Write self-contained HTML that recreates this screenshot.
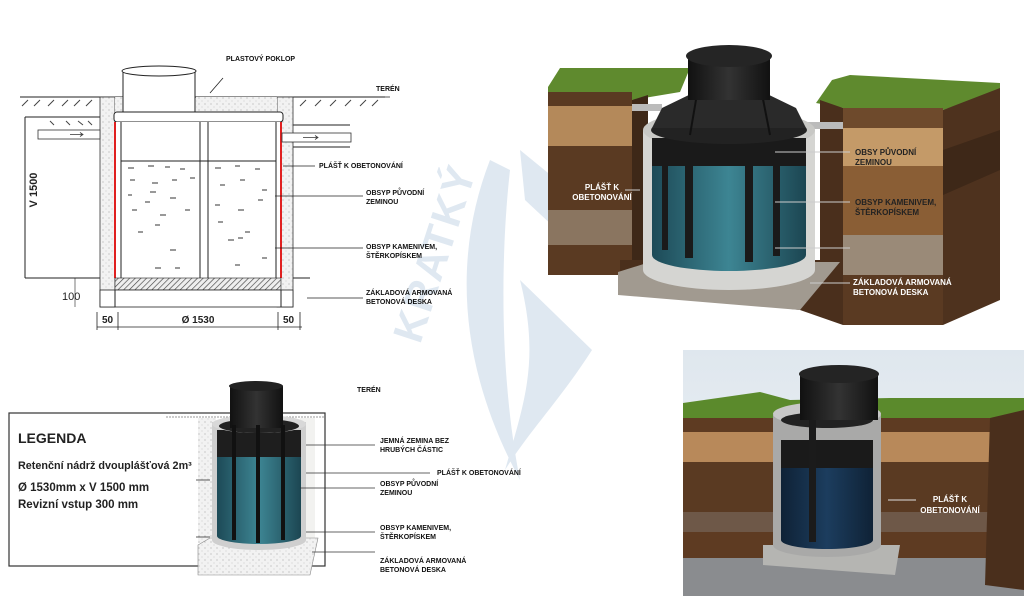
<!DOCTYPE html>
<html><head><meta charset="utf-8"><style>
html,body{margin:0;padding:0;background:#fff;}
svg{display:block;}
text{font-family:"Liberation Sans",sans-serif;}
.l{font-size:7px;font-weight:bold;fill:#111;}
.w{font-size:8px;font-weight:bold;fill:#fff;}
.d{font-size:8px;font-weight:bold;fill:#222;}
</style></head><body>
<svg width="1024" height="596" viewBox="0 0 1024 596" xmlns="http://www.w3.org/2000/svg">
<defs>
<linearGradient id="sky" x1="0" y1="0" x2="0" y2="1"><stop offset="0" stop-color="#dfe7ee"/><stop offset="1" stop-color="#f1f4f6"/></linearGradient>
<linearGradient id="blue" x1="0" y1="0" x2="1" y2="0"><stop offset="0" stop-color="#1d4a57"/><stop offset=".5" stop-color="#3d8593"/><stop offset="1" stop-color="#1c4652"/></linearGradient>
<linearGradient id="navy" x1="0" y1="0" x2="1" y2="0"><stop offset="0" stop-color="#0f2236"/><stop offset=".5" stop-color="#1c3d5e"/><stop offset="1" stop-color="#0f2236"/></linearGradient>
<linearGradient id="blk" x1="0" y1="0" x2="1" y2="0"><stop offset="0" stop-color="#111"/><stop offset=".5" stop-color="#333"/><stop offset="1" stop-color="#111"/></linearGradient>
<pattern id="hat" width="4" height="4" patternUnits="userSpaceOnUse" patternTransform="rotate(45)"><rect width="4" height="4" fill="#eee"/><line x1="0" y1="0" x2="0" y2="4" stroke="#444" stroke-width="1.3"/></pattern>
<pattern id="dots" width="6" height="6" patternUnits="userSpaceOnUse"><rect width="6" height="6" fill="#f2f2f2"/><circle cx="1" cy="2" r=".5" fill="#888"/><circle cx="4" cy="5" r=".4" fill="#999"/></pattern>
</defs>

<!-- watermark -->
<g fill="#dfe8f1">
<path d="M490 160 C455 250 455 360 520 480 C500 380 500 260 510 170 Z"/>
<path d="M520 280 L592 350 C560 400 530 430 505 470 C525 400 540 360 520 280 Z"/>
<path d="M520 150 L630 240 L600 270 L525 200 Z"/>
</g>
<text x="420" y="345" transform="rotate(-72 420 345)" font-size="42" font-weight="bold" fill="#dfe8f1" letter-spacing="2">KRATKÝ</text>

<!-- ===== Top-left technical drawing ===== -->
<g stroke="#222" fill="none" stroke-width="1">
<line x1="20" y1="97" x2="385" y2="97"/>
<line x1="25" y1="117" x2="100" y2="117"/>
<line x1="25" y1="117" x2="25" y2="278"/>
<line x1="25" y1="278" x2="100" y2="278"/>
<line x1="293" y1="125" x2="350" y2="125"/>
<line x1="293" y1="147" x2="350" y2="147"/>
<line x1="293" y1="278" x2="310" y2="278"/>
</g>
<g stroke="#444" stroke-width="1">
<path d="M22 106l6-6M34 106l6-6M48 106l6-6M62 106l6-6M74 106l6-6M86 106l6-6M300 106l6-6M315 106l6-6M330 106l6-6M345 106l6-6M360 106l6-6M372 106l6-6M50 121l4 4M66 121l4 4M78 121l5 4M88 121l4 4"/>
</g>
<rect x="100" y="97" width="15" height="210" fill="url(#dots)" stroke="#333" stroke-width=".8"/>
<rect x="277" y="97" width="16" height="210" fill="url(#dots)" stroke="#333" stroke-width=".8"/>
<rect x="196" y="97" width="81" height="15" fill="url(#dots)"/>
<rect x="115" y="97" width="8" height="15" fill="url(#dots)"/>
<rect x="123" y="70" width="72" height="42" fill="#fff" stroke="#222"/>
<ellipse cx="159" cy="71" rx="37" ry="5" fill="#fff" stroke="#222"/>
<rect x="114" y="112" width="169" height="10" rx="3" fill="#fff" stroke="#222"/>
<rect x="115" y="122" width="166" height="156" fill="#fff"/>
<line x1="121" y1="122" x2="121" y2="278" stroke="#222"/>
<line x1="276" y1="122" x2="276" y2="278" stroke="#222"/>
<line x1="200" y1="122" x2="200" y2="278" stroke="#222"/>
<line x1="208" y1="122" x2="208" y2="278" stroke="#222"/>
<line x1="121" y1="161" x2="276" y2="161" stroke="#222"/>
<line x1="115" y1="122" x2="115" y2="278" stroke="#e02020" stroke-width="2"/>
<line x1="281" y1="122" x2="281" y2="278" stroke="#e02020" stroke-width="2"/>
<g stroke="#333" stroke-width="1">
<path d="M128 168h6M148 166h6M165 167h5M180 169h5M130 180h5M152 183h6M172 180h5M190 178h5M128 195h4M150 192h6M170 198h6M145 202h5M132 210h5M160 215h6M185 210h5M155 225h5M138 232h5M170 250h6M155 268h6M175 268h5M215 168h6M235 166h5M255 169h5M220 185h5M240 180h5M262 190h5M215 205h5M238 210h6M258 200h5M245 232h5M228 240h6M235 265h5M262 258h5M238 238h5M218 222h5"/>
</g>
<rect x="115" y="278" width="166" height="12" fill="url(#hat)" stroke="#222" stroke-width=".6"/>
<rect x="100" y="290" width="193" height="17" fill="#fff" stroke="#222" stroke-width=".8"/>
<line x1="115" y1="290" x2="115" y2="307" stroke="#222"/>
<line x1="281" y1="290" x2="281" y2="307" stroke="#222"/>
<rect x="38" y="130" width="62" height="9" fill="#fff" stroke="#333" stroke-width=".8"/>
<rect x="282" y="133" width="69" height="9" fill="#fff" stroke="#333" stroke-width=".8"/>
<path d="M70 134.5h12M80 132.5l3 2-3 2M303 137.5h14M315 135.5l3 2-3 2" stroke="#333" fill="none" stroke-width=".8"/>
<text x="37" y="190" transform="rotate(-90 37 190)" font-size="11" font-weight="bold" fill="#222" text-anchor="middle">V 1500</text>
<text x="62" y="300" font-size="11" fill="#222">100</text>
<line x1="75" y1="278" x2="75" y2="307" stroke="#222" stroke-width=".6"/>
<g stroke="#222" stroke-width=".8">
<line x1="97" y1="327" x2="302" y2="327"/>
<line x1="97" y1="312" x2="97" y2="330"/><line x1="118" y1="312" x2="118" y2="330"/>
<line x1="278" y1="312" x2="278" y2="330"/><line x1="300" y1="312" x2="300" y2="330"/>
<line x1="210" y1="93" x2="223" y2="78"/>
<line x1="283" y1="166" x2="315" y2="166"/>
<line x1="275" y1="196" x2="363" y2="196"/>
<line x1="275" y1="248" x2="363" y2="248"/>
<line x1="307" y1="298" x2="363" y2="298"/>
<line x1="350" y1="97" x2="390" y2="97"/>
</g>
<text x="102" y="323" font-size="10" font-weight="bold" fill="#222">50</text>
<text x="198" y="323" font-size="10" font-weight="bold" fill="#222" text-anchor="middle">Ø 1530</text>
<text x="283" y="323" font-size="10" font-weight="bold" fill="#222">50</text>
<text x="226" y="61" class="l">PLASTOVÝ POKLOP</text>
<text x="376" y="91" class="l">TERÉN</text>
<text x="319" y="168" class="l">PLÁŠŤ K OBETONOVÁNÍ</text>
<text x="366" y="195" class="l">OBSYP PŮVODNÍ</text><text x="366" y="204" class="l">ZEMINOU</text>
<text x="366" y="249" class="l">OBSYP KAMENIVEM,</text><text x="366" y="258" class="l">ŠTĚRKOPÍSKEM</text>
<text x="366" y="295" class="l">ZÁKLADOVÁ ARMOVANÁ</text><text x="366" y="304" class="l">BETONOVÁ DESKA</text>

<!-- ===== Top-right 3D ===== -->
<polygon points="548,87 560,68 690,68 680,92 632,100 548,100" fill="#5f8a2e"/>
<rect x="548" y="92" width="84" height="183" fill="#5a3a22"/>
<rect x="548" y="106" width="84" height="40" fill="#b4895a"/>
<rect x="548" y="210" width="84" height="35" fill="#8a7560"/>
<polygon points="632,100 648,95 648,275 632,275" fill="#3e2818"/>
<polygon points="620,260 843,260 843,325 800,310 620,290" fill="#4a2f1c"/>
<polygon points="816,103 832,80 850,75 1000,83 1000,90 943,110 843,108" fill="#5f8a2e"/>
<rect x="843" y="108" width="100" height="217" fill="#6e4a2c"/>
<rect x="843" y="128" width="100" height="38" fill="#c49a68"/>
<rect x="843" y="166" width="100" height="69" fill="#8a5e35"/>
<rect x="843" y="235" width="100" height="40" fill="#9a8a78"/>
<rect x="843" y="275" width="100" height="50" fill="#5a3a22"/>
<polygon points="943,110 1000,88 1000,300 943,325" fill="#4e321e"/>
<polygon points="943,150 1000,130 1000,170 943,195" fill="#3e2818"/>
<polygon points="820,100 843,108 843,260 820,260" fill="#4a2f1c"/>
<polygon points="618,272 650,262 840,262 800,310 618,295" fill="#a19a90"/>
<rect x="632" y="104" width="30" height="7" fill="#bbb"/>
<rect x="800" y="122" width="43" height="7" fill="#bbb"/>
<path d="M643 130 L643 270 A86 20 0 0 0 815 270 L815 130 Z" fill="#d5d5d2"/>
<ellipse cx="729" cy="130" rx="86" ry="20" fill="#c8c8c5"/>
<path d="M652 138 L652 255 A77 16 0 0 0 806 255 L806 138 Z" fill="url(#blue)"/>
<rect x="652" y="138" width="154" height="28" fill="#1a1a1a"/>
<g fill="#1a1a1a"><rect x="685" y="138" width="8" height="120"/><rect x="745" y="138" width="8" height="124"/><rect x="773" y="138" width="7" height="118"/><rect x="662" y="138" width="6" height="112"/></g>
<ellipse cx="729" cy="130" rx="78" ry="14" fill="#222"/>
<polygon points="652,128 662,108 695,92 763,92 796,108 806,128" fill="#2a2a2a"/>
<g stroke="#111" stroke-width="2"><line x1="697" y1="94" x2="690" y2="135"/><line x1="762" y1="94" x2="770" y2="135"/></g>
<rect x="688" y="55" width="82" height="45" fill="url(#blk)"/>
<ellipse cx="729" cy="56" rx="43" ry="11" fill="#252525"/>
<line x1="640" y1="190" x2="625" y2="190" stroke="#ccc"/>
<g stroke="#ccc" stroke-width="1"><line x1="775" y1="152" x2="850" y2="152"/><line x1="775" y1="202" x2="850" y2="202"/><line x1="775" y1="248" x2="850" y2="248"/><line x1="810" y1="283" x2="850" y2="283"/></g>
<text x="602" y="190" class="w" text-anchor="middle">PLÁŠŤ K</text>
<text x="602" y="200" class="w" text-anchor="middle">OBETONOVÁNÍ</text>
<text x="855" y="155" class="d">OBSY PŮVODNÍ</text><text x="855" y="165" class="d">ZEMINOU</text>
<text x="855" y="205" class="d">OBSYP KAMENIVEM,</text><text x="855" y="215" class="d">ŠTĚRKOPÍSKEM</text>
<text x="853" y="285" class="w">ZÁKLADOVÁ ARMOVANÁ</text><text x="853" y="295" class="w">BETONOVÁ DESKA</text>

<!-- ===== Bottom-left legend ===== -->
<rect x="9" y="413" width="316" height="153" fill="#fff" stroke="#333" stroke-width="1.2"/>
<text x="18" y="443" font-size="14" font-weight="bold" fill="#222">LEGENDA</text>
<text x="18" y="469" font-size="10.8" font-weight="bold" fill="#222">Retenční nádrž dvouplášťová 2m³</text>
<text x="18" y="491" font-size="11.5" font-weight="bold" fill="#222">Ø 1530mm x V 1500 mm</text>
<text x="18" y="508" font-size="11.5" font-weight="bold" fill="#222">Revizní vstup 300 mm</text>
<rect x="198" y="418" width="18" height="125" fill="url(#dots)"/>
<rect x="300" y="418" width="15" height="125" fill="#f2f2f0"/>
<line x1="166" y1="417" x2="325" y2="417" stroke="#999" stroke-dasharray="2 1"/>
<polygon points="198,545 210,538 318,538 310,575 198,575" fill="url(#dots)" stroke="#888" stroke-width=".6"/>
<path d="M212 422 L212 540 A47 10 0 0 0 306 540 L306 422 Z" fill="#cfcfcf"/>
<path d="M217 430 L217 536 A42 8 0 0 0 301 536 L301 430 Z" fill="url(#blue)"/>
<rect x="217" y="430" width="84" height="27" fill="#1e1e1e"/>
<ellipse cx="259" cy="424" rx="47" ry="9" fill="#d8d8d8"/>
<ellipse cx="259" cy="426" rx="40" ry="7" fill="#222"/>
<rect x="230" y="386" width="53" height="42" fill="url(#blk)"/>
<ellipse cx="256" cy="386" rx="27" ry="5" fill="#222"/>
<g fill="#111"><rect x="232" y="425" width="4" height="115"/><rect x="256" y="425" width="4" height="118"/><rect x="281" y="425" width="4" height="115"/></g>
<g stroke="#333" stroke-width=".8"><line x1="306" y1="445" x2="375" y2="445"/><line x1="306" y1="473" x2="430" y2="473"/><line x1="300" y1="488" x2="375" y2="488"/><line x1="306" y1="532" x2="375" y2="532"/><line x1="312" y1="552" x2="375" y2="552"/><line x1="196" y1="480" x2="210" y2="480"/><line x1="196" y1="537" x2="210" y2="537"/></g>
<text x="357" y="392" class="l" font-size="6">TERÉN</text>
<text x="380" y="443" class="l" font-size="6.5">JEMNÁ ZEMINA BEZ</text><text x="380" y="452" class="l" font-size="6.5">HRUBÝCH ČÁSTIC</text>
<text x="437" y="475" class="l" font-size="6.5">PLÁŠŤ K OBETONOVÁNÍ</text>
<text x="380" y="486" class="l" font-size="6.5">OBSYP PŮVODNÍ</text><text x="380" y="495" class="l" font-size="6.5">ZEMINOU</text>
<text x="380" y="530" class="l" font-size="6.5">OBSYP KAMENIVEM,</text><text x="380" y="539" class="l" font-size="6.5">ŠTĚRKOPÍSKEM</text>
<text x="380" y="563" class="l" font-size="6.5">ZÁKLADOVÁ ARMOVANÁ</text><text x="380" y="572" class="l" font-size="6.5">BETONOVÁ DESKA</text>

<!-- ===== Bottom-right photo ===== -->
<rect x="683" y="350" width="341" height="246" fill="url(#sky)"/>
<rect x="683" y="555" width="341" height="41" fill="#8a8c8f"/>
<polygon points="683,403 760,392 790,400 890,398 1024,398 1024,418 683,418" fill="#5b8a2c"/>
<rect x="683" y="418" width="341" height="140" fill="#5e3b22"/>
<rect x="683" y="432" width="341" height="30" fill="#b8895a"/>
<rect x="683" y="462" width="341" height="50" fill="#5a3a22"/>
<rect x="683" y="512" width="341" height="20" fill="#6e5848"/>
<polygon points="990,418 1024,410 1024,590 985,585" fill="#4a2f1c"/>
<polygon points="763,545 900,545 895,575 763,565" fill="#b5b5b2"/>
<path d="M773 415 L773 545 A54 12 0 0 0 881 545 L881 415 Z" fill="#a9a9a8"/>
<ellipse cx="827" cy="414" rx="54" ry="12" fill="#c8c8c8"/>
<path d="M781 440 L781 540 A46 9 0 0 0 873 540 L873 440 Z" fill="url(#navy)"/>
<rect x="781" y="440" width="92" height="28" fill="#1a1a1a"/>
<ellipse cx="827" cy="420" rx="46" ry="8" fill="#222"/>
<rect x="800" y="372" width="78" height="48" fill="url(#blk)"/>
<ellipse cx="839" cy="374" rx="40" ry="9" fill="#242424"/>
<rect x="809" y="420" width="7" height="122" fill="#1b1b1b"/>
<line x1="888" y1="500" x2="916" y2="500" stroke="#ddd"/>
<text x="950" y="502" class="w" text-anchor="middle">PLÁŠŤ K</text>
<text x="950" y="513" class="w" text-anchor="middle">OBETONOVÁNÍ</text>
</svg>
</body></html>
